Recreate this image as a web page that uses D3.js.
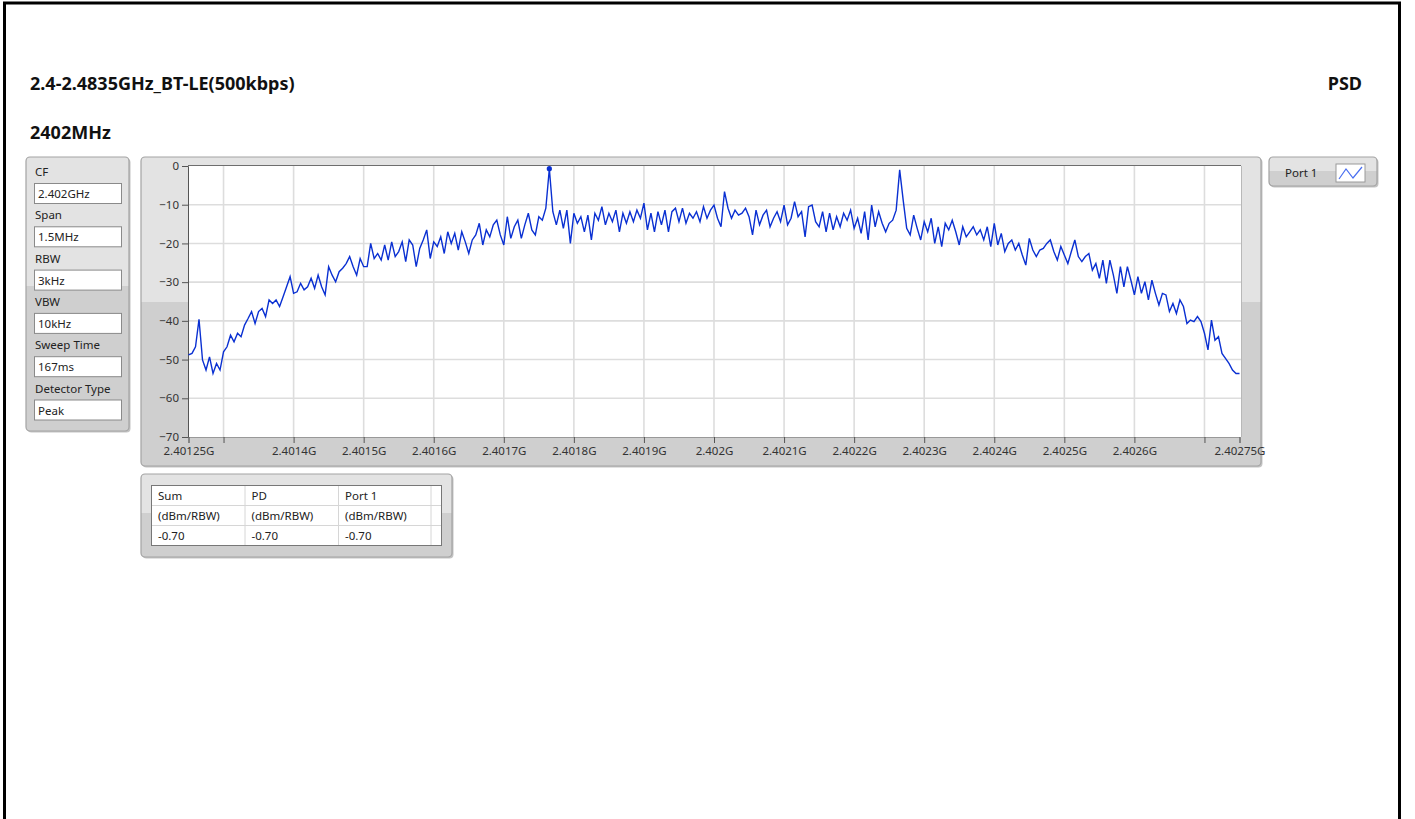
<!DOCTYPE html>
<html>
<head>
<meta charset="utf-8">
<script src="https://cdn.jsdelivr.net/npm/d3@7"></script>
<style>
  html, body { margin: 0; padding: 0; background: #fff; }
  svg { display: block; font-family: "Noto Sans", "Open Sans", sans-serif; }
</style>
</head>
<body>
<script>
const W = 1415, H = 819

// sweep settings (also shown in the left panel)
const sweepCF = 2.402e9
const sweepSpan = 1.5e6

const settingLabels = ["CF", "Span", "RBW", "VBW", "Sweep Time", "Detector Type"]
const settingValues = ["2.402GHz", "1.5MHz", "3kHz", "10kHz", "167ms", "Peak"]

const tableHeaders = ["Sum", "PD", "Port 1"]
const tableUnits = ["(dBm/RBW)", "(dBm/RBW)", "(dBm/RBW)"]
const tableValues = ["-0.70", "-0.70", "-0.70"]

const yTicks = [0, -10, -20, -30, -40, -50, -60, -70]
const xTickHz = [2.40125e9, 2.4013e9, 2.4014e9, 2.4015e9, 2.4016e9, 2.4017e9, 2.4018e9, 2.4019e9,
	2.402e9, 2.4021e9, 2.4022e9, 2.4023e9, 2.4024e9, 2.4025e9, 2.4026e9, 2.4027e9, 2.40275e9]
const xTickLabels = ["2.40125G", "", "2.4014G", "2.4015G", "2.4016G", "2.4017G", "2.4018G", "2.4019G",
	"2.402G", "2.4021G", "2.4022G", "2.4023G", "2.4024G", "2.4025G", "2.4026G", "", "2.40275G"]

// trace, dBm per sweep point (301 points over the span)
const traceDbm = [
	-48.8, -48.4, -46.7, -39.6, -50.1, -52.7, -49.3, -53.6, -51, -52.7,
	-48, -46.7, -43.7, -45.4, -43.2, -44.1, -41.1, -39.4, -37.6, -40.7,
	-37.6, -36.8, -38.9, -34.6, -35.5, -34.6, -36.3, -33.8, -31.2, -28.6,
	-32.9, -32.5, -30.3, -32, -31.2, -29, -31.6, -28.2, -31.2, -33.3,
	-26, -28.2, -29.9, -27.3, -26.4, -25.2, -23.4, -26, -28.2, -23.9,
	-26, -26, -20, -23.9, -22.6, -24.3, -20.4, -24.3, -19.6, -23.4,
	-22.1, -19.6, -24.7, -19.1, -20.4, -26, -21.3, -19.1, -16.5, -23.9,
	-19.6, -20.8, -18.3, -22.6, -17,
	-20, -17.4, -21.7, -17, -19.6, -22.6, -19.1, -17.8, -14.8, -20.4,
	-16.5, -18.3, -15.2, -14, -17.8, -20.4, -13.1, -18.7, -15.7, -14,
	-18.7, -15.2, -12.2, -16.5, -17.8, -13.1, -14, -10.9, -0.7, -11.8,
	-15.2, -11.4, -16.1, -11.4, -20, -12.2, -14.8, -13.1, -17, -12.7,
	-19.1, -12.2, -14, -10.5, -15.2, -12.2, -14.4, -11.4, -17, -12.2,
	-14.8, -11.8, -14.4, -11.4, -13.5, -9.6, -16.5, -12.2, -17, -11.8,
	-15.2, -11.4, -17, -11.8, -10.9, -14.4, -10.9, -14.8, -12.2, -13.5,
	-11.8, -14.4, -10.5, -13.5, -11.4,
	-10.1, -13.5, -15.7, -6.6, -10.9, -13.5, -11.4, -12.7, -12.2, -10.9,
	-13.1, -17.8, -11.4, -15.2, -12.7, -11.4, -15.7, -13.5, -11.8, -14.4,
	-10.1, -15.2, -13.5, -9.2, -13.1, -11.8, -18.3, -10.5, -10.1, -14.4,
	-15.7, -11.8, -17, -12.2, -16.5, -13.1, -15.7, -12.2, -14, -11.4,
	-16.1, -13.5, -17.4, -11.8, -19.1, -10.1, -15.7, -11.8, -14.8, -17,
	-14.8, -14, -11.4, -1, -8.8, -16.1, -17.8, -12.7, -16.1, -19.1,
	-14.4, -17, -13.5, -20, -15.7, -20.8, -14.8, -16.5, -14, -17,
	-20.4, -15.7, -18.3, -17,
	-15.7, -17.8, -16.5, -19.1, -15.7, -20.8, -14.8, -20.4, -17.4, -22.1,
	-20, -19.1, -21.7, -20, -23, -25.6, -18.7, -21.7, -23.4, -21.7,
	-21.3, -20, -19.1, -22.1, -24.3, -20.8, -23, -25.2, -22.1, -19.1,
	-23.4, -24.7, -23.4, -22.6, -26.9, -25.2, -29, -24.3, -30.3, -24.3,
	-28.2, -32.9, -26, -31.2, -26, -29.5, -33.3, -28.6, -32.9, -29.9,
	-34.6, -29.5, -32.9, -35.9, -32.9, -33.3, -37.6, -35.5, -38.1, -34.6,
	-36.3, -40.7, -39.8, -40.2, -38.9, -40.2, -43.2, -47.5, -39.8, -45,
	-44.1, -48.4, -49.7, -51, -52.7, -53.6, -53.6
]

const svg = d3.select("body").append("svg")
	.attr("width", W)
	.attr("height", H)

// panel background: light upper part, darker lower part
const defs = svg.append("defs")
const grad = defs.append("linearGradient")
	.attr("id", "panelFill")
	.attr("x1", 0).attr("y1", 0).attr("x2", 0).attr("y2", 1)
grad.append("stop").attr("offset", "47%").attr("stop-color", "#e3e3e3")
grad.append("stop").attr("offset", "47%").attr("stop-color", "#cfcfcf")

const panel = (x, y, w, h) => {
	svg.append("rect")
		.attr("x", x + 1.5).attr("y", y + 1.5)
		.attr("width", w).attr("height", h)
		.attr("rx", 4)
		.attr("fill", "#c4c4c4")
	svg.append("rect")
		.attr("x", x).attr("y", y)
		.attr("width", w).attr("height", h)
		.attr("rx", 4)
		.attr("fill", "url(#panelFill)")
		.attr("stroke", "#a3a3a3")
		.attr("stroke-width", 1.2)
}

// page frame
svg.append("rect")
	.attr("x", 4.5).attr("y", 3)
	.attr("width", 1395).attr("height", H + 10)
	.attr("fill", "none")
	.attr("stroke", "#000")
	.attr("stroke-width", 3)

// titles
const titleSize = 18
svg.append("text")
	.attr("x", 30).attr("y", 90)
	.attr("font-size", titleSize).attr("font-weight", "bold")
	.attr("fill", "#111")
	.text("2.4-2.4835GHz_BT-LE(500kbps)")

svg.append("text")
	.attr("x", 30).attr("y", 138.5)
	.attr("font-size", titleSize).attr("font-weight", "bold")
	.attr("fill", "#111")
	.text("2402MHz")

svg.append("text")
	.attr("x", 1362).attr("y", 90)
	.attr("text-anchor", "end")
	.attr("font-size", titleSize).attr("font-weight", "bold")
	.attr("fill", "#111")
	.text("PSD")

// left settings panel
panel(26, 157, 103, 274)
const settings = svg.append("g")
settingLabels.forEach((lab, i) => {
	const top = 163 + i * 43.3
	settings.append("text")
		.attr("x", 35).attr("y", top + 13)
		.attr("font-size", 11.5).attr("fill", "#222")
		.text(lab)
	settings.append("rect")
		.attr("x", 34.5).attr("y", top + 20.5)
		.attr("width", 87).attr("height", 20)
		.attr("fill", "#fff")
		.attr("stroke", "#8a8a8a")
	settings.append("text")
		.attr("x", 38).attr("y", top + 35)
		.attr("font-size", 11.5).attr("fill", "#222")
		.text(settingValues[i])
})

// graph panel
panel(141, 157, 1120, 309)

const plot = { left: 188, right: 1241, top: 166, bottom: 437 }

const x = d3.scaleLinear()
	.domain([sweepCF - sweepSpan / 2, sweepCF + sweepSpan / 2])
	.range([188.5, 1239.5])

const y = d3.scaleLinear()
	.domain([-70, 0])
	.range([plot.bottom, plot.top])

svg.append("rect")
	.attr("x", plot.left).attr("y", plot.top)
	.attr("width", plot.right - plot.left).attr("height", plot.bottom - plot.top)
	.attr("fill", "#fff")

const grid = svg.append("g")
	.attr("stroke", "#dddddd")
	.attr("stroke-width", 1.6)
grid.selectAll("line.v").data(xTickHz.slice(1, -1)).join("line")
	.attr("class", "v")
	.attr("x1", d => x(d)).attr("x2", d => x(d))
	.attr("y1", plot.top).attr("y2", plot.bottom)
grid.selectAll("line.h").data(yTicks.slice(1, -1)).join("line")
	.attr("class", "h")
	.attr("x1", plot.left).attr("x2", plot.right)
	.attr("y1", d => y(d)).attr("y2", d => y(d))

// plot frame
svg.append("line")
	.attr("x1", plot.left).attr("x2", plot.right)
	.attr("y1", plot.top - 0.5).attr("y2", plot.top - 0.5)
	.attr("stroke", "#6e6e6e")
svg.append("line")
	.attr("x1", plot.right + 0.5).attr("x2", plot.right + 0.5)
	.attr("y1", plot.top).attr("y2", plot.bottom)
	.attr("stroke", "#b8b8b8")

const yAxis = svg.append("g")
	.attr("transform", `translate(${plot.left},0)`)
	.call(d3.axisLeft(y).tickValues(yTicks).tickSize(6).tickPadding(3).tickFormat(d3.format("d")))
yAxis.select(".domain").attr("stroke", "#555")
yAxis.selectAll(".tick line").attr("stroke", "#555")
yAxis.selectAll("text")
	.attr("font-size", 11.5).attr("fill", "#333")
	.attr("font-family", "Noto Sans, sans-serif")

const xAxis = svg.append("g")
	.attr("transform", `translate(0,${plot.bottom})`)
	.call(d3.axisBottom(x).tickValues(xTickHz).tickSize(6).tickPadding(4)
		.tickFormat((d, i) => xTickLabels[i]))
xAxis.select(".domain").attr("stroke", "#999")
xAxis.selectAll(".tick line").attr("stroke", "#555")
xAxis.selectAll("text")
	.attr("font-size", 11.5).attr("fill", "#333")
	.attr("font-family", "Noto Sans, sans-serif")

// trace
const freqOf = i => sweepCF - sweepSpan / 2 + i * sweepSpan / (traceDbm.length - 1)
const line = d3.line()
	.x((d, i) => x(freqOf(i)))
	.y(d => y(d))

svg.append("path")
	.datum(traceDbm)
	.attr("d", line)
	.attr("fill", "none")
	.attr("stroke", "#0a30d2")
	.attr("stroke-width", 1.4)
	.attr("stroke-linejoin", "miter")

// peak marker
const peakIdx = d3.maxIndex(traceDbm)
svg.append("circle")
	.attr("cx", x(freqOf(peakIdx))).attr("cy", y(traceDbm[peakIdx]))
	.attr("r", 2.6)
	.attr("fill", "#0a30d2")

// legend
panel(1269, 157, 108, 29)
svg.append("text")
	.attr("x", 1285).attr("y", 177)
	.attr("font-size", 11.5).attr("fill", "#222")
	.text("Port 1")
svg.append("rect")
	.attr("x", 1336).attr("y", 164)
	.attr("width", 29).attr("height", 18)
	.attr("fill", "#fff")
	.attr("stroke", "#9a9a9a")
svg.append("path")
	.attr("d", d3.line()([[1339, 179], [1346, 169], [1353, 178], [1362, 167]]))
	.attr("fill", "none")
	.attr("stroke", "#4a6ff0")
	.attr("stroke-width", 1.2)

// power table
panel(141, 474, 311, 83)
const tbl = svg.append("g")
tbl.append("rect")
	.attr("x", 151.5).attr("y", 485.5)
	.attr("width", 290).attr("height", 60)
	.attr("fill", "#fff")
	.attr("stroke", "#777")
const colX = [151.5, 245, 338.5, 431]
const rowY = [485.5, 505.5, 525.5, 545.5]
tbl.selectAll("line.col").data(colX.slice(1)).join("line")
	.attr("x1", d => d).attr("x2", d => d)
	.attr("y1", 486).attr("y2", 545)
	.attr("stroke", "#d6d6d6")
tbl.selectAll("line.row").data(rowY.slice(1, -1)).join("line")
	.attr("x1", 152).attr("x2", 441)
	.attr("y1", d => d).attr("y2", d => d)
	.attr("stroke", "#d6d6d6")
const rows = [tableHeaders, tableUnits, tableValues]
rows.forEach((row, r) => {
	row.forEach((txt, c) => {
		tbl.append("text")
			.attr("x", colX[c] + 6.5).attr("y", rowY[r] + 14.5)
			.attr("font-size", 11.5).attr("fill", "#222")
			.text(txt)
	})
})
</script>
</body>
</html>
